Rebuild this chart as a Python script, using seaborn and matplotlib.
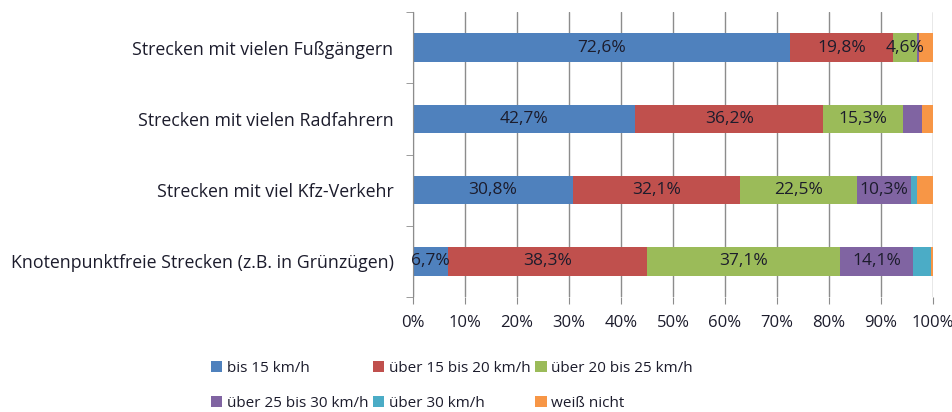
import numpy as np
import pandas as pd
import seaborn as sns
import matplotlib.pyplot as plt
from matplotlib.patches import Patch

# data (percent)
strecken = [
    'Strecken mit vielen Fußgängern',
    'Strecken mit vielen Radfahrern',
    'Strecken mit viel Kfz-Verkehr',
    'Knotenpunktfreie Strecken (z.B. in Grünzügen)',
]
kategorien = ['bis 15 km/h', 'über 15 bis 20 km/h', 'über 20 bis 25 km/h',
              'über 25 bis 30 km/h', 'über 30 km/h', 'weiß nicht']
bis_15 = [72.6, 42.7, 30.8, 6.7]
ueber_15_20 = [19.8, 36.2, 32.1, 38.3]
ueber_20_25 = [4.6, 15.3, 22.5, 37.1]
ueber_25_30 = [0.4, 3.7, 10.3, 14.1]
ueber_30 = [0.0, 0.0, 1.3, 3.4]
weiss_nicht = [2.6, 2.1, 3.0, 0.4]
farben = ['#4F81BD', '#C0504D', '#9BBB59', '#8064A2', '#4BACC6', '#F79646']
x_ticks = np.arange(0, 101, 10)

werte = np.array([bis_15, ueber_15_20, ueber_20_25, ueber_25_30, ueber_30, weiss_nicht])
kum = werte.cumsum(axis=0)

df = pd.DataFrame({'strecke': strecken})
for i, k in enumerate(kategorien):
    df[k] = kum[i]

sns.set_style('white')
plt.rcParams['font.family'] = ['Open Sans', 'DejaVu Sans']
txt = '#1c1c2c'

fig = plt.figure(figsize=(9.52, 4.12), dpi=100)
ax = fig.add_axes([0.4338, 0.279, 0.5462, 0.6919])

# stacked bars: draw cumulative sums from the back to the front
for i in range(len(kategorien) - 1, -1, -1):
    sns.barplot(data=df, x=kategorien[i], y='strecke', order=strecken,
                color=farben[i], orient='h', width=0.4, saturation=1,
                edgecolor='none', ax=ax)

# value labels
for j in range(len(strecken)):
    links = 0
    for i in range(len(kategorien)):
        v = werte[i, j]
        if v > 4:
            ax.text(links + v / 2, j, f'{v:.1f}%'.replace('.', ','),
                    ha='center', va='center', fontsize=12.5, color=txt)
        links += v

ax.set_xlim(0, 100)
ax.set_ylim(len(strecken) - 0.5, -0.5)
ax.set_xticks(x_ticks)
ax.set_xticklabels([f'{t}%' for t in x_ticks], fontsize=12, color=txt)
ax.tick_params(axis='y', labelsize=12.8, labelcolor=txt, length=0, pad=14)
ax.tick_params(axis='x', length=5, color='#8c8c8c', pad=8, bottom=True)
ax.set_yticks(np.arange(-0.5, len(strecken), 1), minor=True)
ax.tick_params(axis='y', which='minor', left=True, length=5, color='#8c8c8c')
ax.set_xlabel('')
ax.set_ylabel('')

ax.grid(axis='x', color='#8c8c8c', linewidth=1)
ax.set_axisbelow(True)
for s in ['top', 'right', 'bottom']:
    ax.spines[s].set_visible(False)
ax.spines['left'].set_color('#8c8c8c')

# legend, filled row by row
handles = [Patch(facecolor=c, edgecolor='none') for c in farben]
reihenfolge = [0, 3, 1, 4, 2, 5]
fig.legend([handles[i] for i in reihenfolge], [kategorien[i] for i in reihenfolge],
           ncol=3, loc='lower left', bbox_to_anchor=(0.207, -0.03),
           frameon=False, fontsize=11, handlelength=0.75, handleheight=0.75,
           handletextpad=0.3, columnspacing=0.3, labelspacing=1.3,
           labelcolor=txt)

fig.savefig('out.png', dpi=100)
